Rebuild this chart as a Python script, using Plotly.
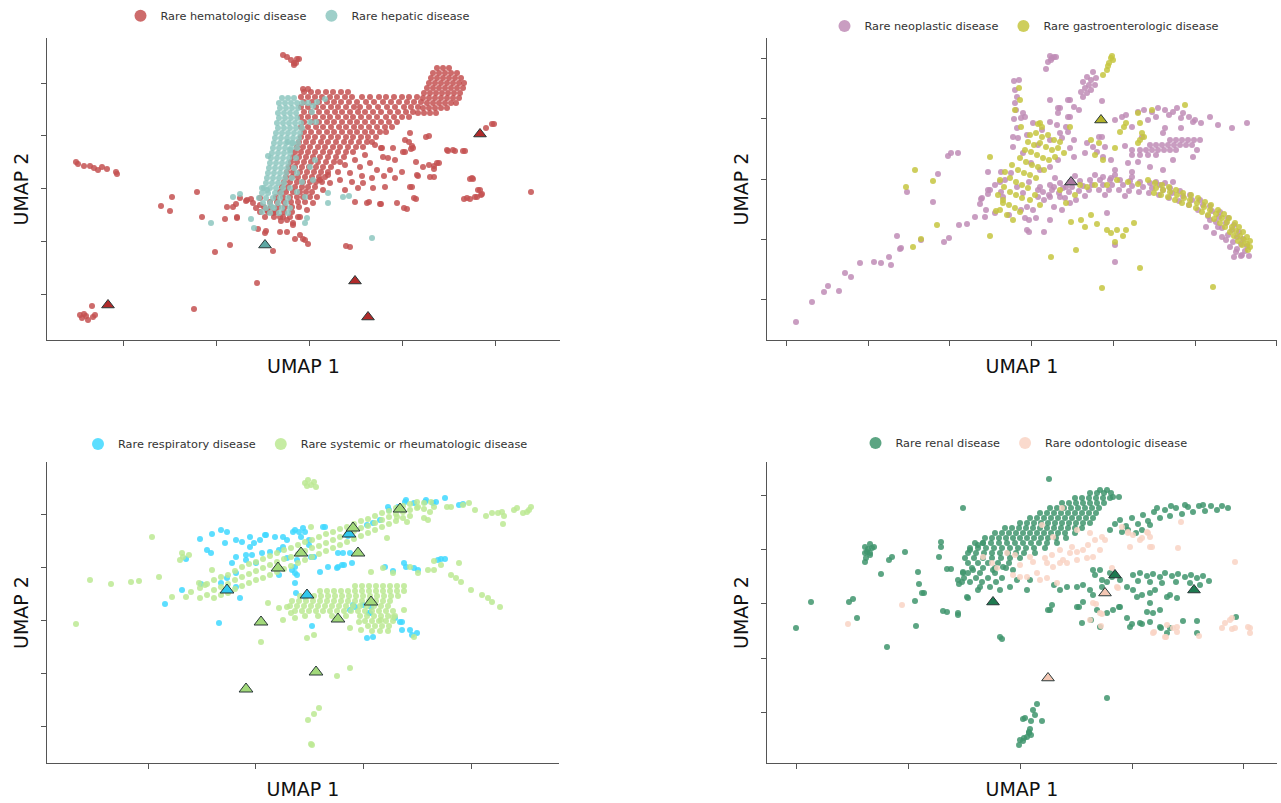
import plotly.graph_objects as go

FONT = "DejaVu Sans"
W, H = 1281, 803

# =====================================================================
# Panel A (top-left): hematologic vs hepatic
# =====================================================================
hema_rows = [
    (26.1, [30.3, 30.8]),
    (25.8, [30.4, 31.1, 31.8, 32.6, 33.3, 34.1, 34.8]),
    (25.3, [30.1, 30.8, 31.5, 32.2, 33.0, 33.7, 34.5, 35.2, 36.2, 37.0, 37.9, 38.6, 39.4, 40.2, 40.9, 41.7]),
    (24.8, [30.4, 31.2, 31.9, 32.7, 33.4, 34.1, 34.9, 35.7, 36.6, 37.4, 38.3, 39.1, 39.9, 40.7, 41.4, 42.1]),
    (24.3, [30.1, 30.8, 31.6, 32.3, 33.1, 33.8, 34.6, 35.4, 36.0, 36.9, 37.8, 38.7, 39.5, 40.4, 41.1, 41.8]),
    (23.8, [30.4, 31.1, 31.9, 32.7, 33.5, 34.2, 35.0, 35.8, 36.5, 37.3, 38.1, 39.0, 39.8, 40.6, 41.3]),
    (23.3, [30.1, 30.8, 31.5, 32.3, 33.0, 33.8, 34.6, 35.3, 36.1, 36.9, 37.7, 38.6, 39.4, 40.2, 40.9]),
    (22.8, [30.4, 31.2, 31.9, 32.7, 33.4, 34.2, 35.0, 35.7, 36.5, 37.3, 38.1, 38.9, 39.7]),
    (22.3, [30.1, 30.8, 31.6, 32.3, 33.1, 33.9, 34.6, 35.4, 36.1, 36.9, 37.7, 38.5, 39.2]),
    (21.8, [30.4, 31.1, 31.9, 32.7, 33.4, 34.2, 35.0, 35.7, 36.5, 37.2, 38.0, 38.6]),
    (21.3, [30.1, 30.8, 31.5, 32.3, 33.1, 33.8, 34.6, 35.3, 36.1, 36.8, 37.6]),
    (20.8, [29.9, 30.6, 31.3, 32.1, 32.8, 33.6, 34.4, 35.1, 35.9, 36.7, 37.2]),
    (20.3, [29.7, 30.3, 31.0, 31.8, 32.5, 33.3, 34.0, 34.8, 35.6, 36.3]),
    (19.8, [29.5, 30.1, 30.8, 31.5, 32.3, 33.0, 33.8, 34.6, 35.3]),
    (19.3, [29.3, 29.9, 30.6, 31.3, 32.0, 32.8, 33.6, 34.4]),
    (18.8, [29.1, 29.7, 30.4, 31.1, 31.8, 32.6, 33.4, 34.0]),
    (18.3, [28.9, 29.5, 30.2, 30.9, 31.6, 32.3, 33.1]),
    (17.8, [28.7, 29.3, 30.0, 30.7, 31.4, 32.1, 32.8]),
    (17.3, [28.6, 29.2, 29.8, 30.5, 31.2, 31.9, 32.5]),
    (16.8, [28.4, 29.0, 29.7, 30.3, 31.0, 31.6, 32.2]),
    (16.3, [28.2, 28.8, 29.5, 30.2, 30.8, 31.5]),
    (15.8, [28.0, 28.6, 29.3, 30.0, 30.6, 31.2]),
    (15.3, [27.6, 28.3, 29.0, 29.7, 30.3, 31.0]),
    (14.8, [27.0, 27.7, 28.4, 29.1, 29.8, 30.5]),
    (14.3, [26.4, 27.1, 27.8, 28.5, 29.2, 29.9]),
    (13.8, [26.0, 26.8, 27.6, 28.4, 29.2]),
    (13.3, [26.5, 27.4, 28.3, 29.0]),
    (28.2, [43.7, 44.3, 44.9]),
    (27.7, [43.3, 43.9, 44.5, 45.1, 45.7]),
    (27.2, [43.1, 43.7, 44.3, 44.9, 45.5, 46.1]),
    (26.7, [42.9, 43.5, 44.1, 44.7, 45.3, 45.9, 46.4]),
    (26.2, [42.7, 43.3, 43.9, 44.5, 45.1, 45.7, 46.3]),
    (25.7, [42.4, 43.0, 43.6, 44.2, 44.8, 45.4, 46.0]),
    (25.2, [42.3, 42.9, 43.5, 44.1, 44.7, 45.3, 45.9]),
    (24.7, [42.7, 43.3, 43.9, 44.5, 45.1, 45.6]),
    (24.2, [42.3, 42.9, 43.5, 44.1, 44.7]),
    (23.7, [41.8, 42.4, 43.0, 43.6]),
]
hema_scatter = [
    (28.3, 29.5), (28.7, 29.3), (29.1, 29.0), (29.4, 28.7), (29.7, 29.1), (29.9, 29.1), (29.4, 28.5), (29.6, 28.7),
    (7.6, 18.8), (7.8, 18.6), (8.4, 18.4), (9.0, 18.4), (9.4, 18.2), (9.8, 18.0), (10.2, 18.3), (10.7, 18.1),
    (11.6, 17.8), (11.7, 17.6),
    (8.0, 3.5), (8.4, 3.6), (8.6, 3.4), (8.8, 3.0), (9.2, 4.4), (9.3, 3.3), (9.5, 3.5), (8.2, 3.2),
    (19.4, 4.1), (25.7, 6.7), (21.5, 9.8), (23.0, 10.5), (20.2, 13.3), (17.0, 13.9), (16.1, 14.4), (17.2, 15.3),
    (19.7, 15.8), (27.3, 9.9), (34.6, 10.4), (35.0, 10.3), (53.1, 15.8),
    (47.3, 17.1), (48.0, 16.0), (48.2, 15.6), (47.7, 15.3), (47.0, 15.1), (46.4, 15.1), (49.4, 22.6), (48.6, 22.2),
    (46.5, 19.9), (45.5, 19.9), (44.8, 19.9), (43.9, 18.7), (43.4, 18.4), (42.9, 18.5), (43.4, 18.1), (43.4, 17.3),
    (41.6, 18.8), (41.8, 17.4), (41.2, 16.3), (41.6, 15.1), (40.7, 14.1), (39.7, 14.7), (38.1, 14.6), (36.9, 14.8),
    (35.5, 14.8), (42.9, 21.4), (42.6, 21.3), (41.0, 21.7), (40.9, 20.8), (41.2, 20.4), (41.1, 20.1), (40.5, 19.8),
    (37.5, 20.5), (38.1, 20.2), (38.3, 19.3),
    (30.8, 10.6), (30.3, 11.1), (29.5, 11.1), (28.7, 11.8), (28.0, 11.8), (26.6, 11.9), (25.8, 12.1), (28.1, 12.9),
    (23.7, 13.2), (22.5, 13.1), (22.7, 14.3), (23.6, 14.6), (24.6, 14.9), (25.1, 15.1), (26.0, 15.2), (25.6, 14.2),
    (40.5, 21.0), (41.3, 20.2), (40.3, 19.8), (39.3, 20.2), (38.2, 20.2), (42.3, 18.3), (41.7, 17.5), (43.0, 17.3),
    (43.7, 18.7), (44.7, 20.0), (45.3, 20.0), (46.3, 19.9), (47.0, 17.1), (47.2, 17.2), (46.7, 15.2), (47.5, 15.3),
    (48.1, 15.5), (47.8, 16.0), (49.2, 22.6),
    (41.0, 16.3), (41.4, 15.2), (40.4, 14.2), (38.0, 14.6), (36.7, 14.7), (38.5, 16.3), (37.3, 16.2), (36.3, 16.7),
    (35.8, 16.2), (39.0, 18.0), (37.7, 18.0), (37.0, 18.7), (36.0, 18.3), (35.0, 17.7), (34.0, 17.0), (33.0, 16.7),
    (32.3, 16.0), (31.7, 15.3), (31.3, 14.7), (30.7, 14.0), (30.0, 13.3), (29.3, 12.7), (28.7, 13.0), (28.0, 13.3),
    (27.3, 13.7), (26.7, 14.0), (26.0, 14.5), (25.3, 14.7), (24.7, 15.0), (24.0, 15.2), (23.3, 14.3), (23.7, 13.3),
    (26.5, 11.7), (30.0, 11.5), (30.5, 11.0), (29.3, 12.5), (29.8, 13.3),
    (34.5, 16.0), (35.2, 16.8), (36.2, 17.4), (37.2, 17.2), (38.4, 17.4), (39.5, 17.2), (40.2, 17.8), (39.5, 19.0),
    (38.8, 19.2), (36.5, 19.5), (35.5, 19.0), (34.5, 18.5), (33.8, 17.8), (32.8, 17.5), (32.0, 17.0),
]
hepatic_rows = [
    (25.2, [28.2, 28.8, 29.4]),
    (24.7, [27.9, 28.5, 29.1, 29.7]),
    (24.2, [28.0, 28.6, 29.2, 29.8]),
    (23.7, [27.8, 28.4, 29.0, 29.6]),
    (23.2, [27.9, 28.5, 29.1, 29.7]),
    (22.7, [27.7, 28.3, 28.9, 29.5]),
    (22.2, [27.8, 28.4, 29.0, 29.6, 30.2]),
    (21.7, [27.6, 28.2, 28.8, 29.4, 30.0]),
    (21.2, [27.5, 28.1, 28.7, 29.3, 29.9]),
    (20.7, [27.4, 28.0, 28.6, 29.2, 29.8]),
    (20.2, [27.3, 27.9, 28.5, 29.1, 29.7]),
    (19.7, [27.2, 27.8, 28.4, 29.0]),
    (19.2, [27.1, 27.7, 28.3, 28.9, 29.6]),
    (18.7, [27.0, 27.6, 28.2, 28.8]),
    (18.2, [26.9, 27.5, 28.1, 28.7, 29.4]),
    (17.7, [26.8, 27.4, 28.0, 28.6]),
    (17.2, [26.7, 27.3, 27.9, 28.5, 29.2]),
    (16.7, [26.6, 27.2, 27.8, 28.4]),
    (16.2, [26.4, 27.0, 27.6, 28.3, 29.0]),
    (15.7, [26.2, 26.8, 27.5, 28.1]),
    (15.2, [25.9, 26.6, 27.3, 28.0, 28.8]),
    (14.7, [26.3, 27.0, 27.8, 28.6]),
    (14.2, [26.6, 27.4, 28.2, 29.0]),
    (13.7, [27.0, 27.9, 28.8]),
]
hepatic_scatter = [
    (21.1, 12.7), (23.3, 15.3), (24.0, 15.6), (25.1, 13.1), (25.4, 12.2), (26.8, 19.4), (26.2, 16.2), (26.7, 16.0),
    (32.8, 15.7), (34.3, 15.3), (34.9, 15.4), (32.8, 14.7), (37.2, 11.2), (30.5, 12.7), (30.7, 13.2), (26.2, 13.8),
    (27.2, 14.3), (30.2, 24.7), (30.8, 24.7), (31.3, 24.4), (31.7, 24.8), (32.5, 25.1), (31.2, 23.8), (31.0, 22.8),
    (31.6, 22.8), (30.1, 22.7), (28.8, 20.8), (29.3, 20.7), (29.0, 20.0), (31.5, 19.0), (31.0, 18.3), (29.7, 17.7),
    (30.2, 16.8), (31.3, 17.0), (30.5, 15.3), (29.7, 15.8),
]
hema_tri = [(10.8, 4.5), (35.5, 6.9), (36.8, 3.3), (48.0, 21.6)]
hepatic_tri = [(26.5, 10.5)]

# =====================================================================
# Panel B (top-right): neoplastic vs gastroenterologic
# =====================================================================
neo_rows = [
    (21.0, [53.0, 53.6, 54.2, 54.8, 55.4, 56.0]),
    (20.5, [51.0, 51.6, 52.2, 52.8, 53.4, 54.0, 54.6, 55.2]),
    (20.0, [50.0, 50.6, 51.2, 51.8, 52.4, 53.0, 53.6]),
    (19.5, [49.2, 50.0, 50.8, 51.6]),
]
neo_scatter = [
    (15.6, 2.8), (17.2, 4.8), (18.4, 5.8), (18.8, 6.4), (19.9, 5.9), (20.5, 7.7), (21.1, 7.3), (22.0, 8.7),
    (23.4, 8.8), (24.1, 8.7), (24.9, 9.3), (25.1, 8.5), (25.7, 11.4), (26.0, 10.1), (26.1, 10.2), (28.1, 11.0),
    (30.4, 10.8), (30.9, 11.2), (31.9, 12.5), (32.7, 12.6), (33.5, 13.3), (34.5, 13.3), (26.7, 15.8), (29.3, 14.8),
    (29.8, 17.6), (30.8, 19.4), (31.1, 19.7), (31.8, 19.7), (34.1, 15.1), (34.0, 14.6), (34.8, 15.6), (35.0, 16.0),
    (35.5, 16.5), (36.0, 16.8),
    (41.0, 29.4), (41.2, 29.2), (41.4, 29.3), (41.6, 29.3), (40.8, 28.8), (40.6, 28.1), (41.1, 29.0),
    (37.4, 26.9), (37.9, 27.0), (37.5, 26.0), (37.7, 25.3), (37.5, 24.7), (37.6, 24.0), (38.3, 23.7), (37.4, 23.1),
    (38.1, 23.2), (37.7, 22.2), (37.3, 21.3), (37.8, 21.2),
    (45.3, 27.8), (44.7, 27.3), (45.1, 27.0), (44.3, 26.8), (44.9, 26.5), (44.5, 26.2), (44.1, 25.8), (44.7, 25.7),
    (44.3, 25.3), (45.1, 26.0), (45.6, 27.2), (45.5, 26.5), (43.9, 24.0), (43.4, 24.3), (43.0, 25.0), (42.0, 24.2),
    (42.8, 23.3), (42.6, 22.3), (43.4, 21.0), (42.0, 21.7), (41.7, 22.5), (41.0, 25.0), (46.2, 24.9),
    (47.5, 23.0), (48.2, 23.3), (48.6, 23.5), (49.2, 22.3), (49.8, 23.8), (50.4, 24.0), (51.2, 23.8), (51.8, 24.2),
    (52.5, 24.0), (53.3, 23.8), (53.7, 24.2), (54.3, 23.7), (54.9, 23.3), (55.5, 23.0), (56.1, 22.7), (57.0, 23.3),
    (57.8, 22.5), (59.2, 22.2), (60.7, 22.7), (50.8, 23.0), (51.6, 23.3), (52.9, 23.5), (54.1, 23.2), (55.3, 22.8),
    (52.5, 22.2), (48.5, 20.4), (49.2, 20.0),
    (36.1, 17.8), (36.5, 17.0), (37.1, 17.7), (37.7, 16.3), (38.3, 15.7), (38.9, 16.8), (38.7, 14.3), (39.3, 14.0),
    (38.5, 13.2), (38.9, 13.0), (39.6, 13.2), (40.4, 11.8), (41.0, 13.0), (41.4, 14.3), (42.2, 14.0), (43.0, 14.7),
    (43.6, 15.0), (42.0, 15.3), (41.0, 15.3), (40.4, 15.0), (39.8, 16.0), (41.4, 16.3), (42.6, 16.3), (40.0, 18.0),
    (41.0, 18.3), (41.8, 19.0), (39.1, 18.7), (38.3, 19.7), (37.3, 20.3), (38.7, 21.5), (39.8, 20.5), (41.0, 21.0),
    (42.2, 21.2), (43.0, 20.2), (43.4, 19.3), (44.7, 20.7), (45.3, 20.3), (44.5, 19.7), (45.9, 21.3), (46.3, 19.3),
    (47.1, 19.0), (48.8, 18.7), (49.8, 18.8), (47.1, 17.2), (47.5, 18.0), (49.2, 17.8), (51.0, 18.3), (52.3, 18.0),
    (53.3, 16.8), (55.3, 19.3), (55.7, 20.0), (53.3, 19.0), (50.2, 21.3), (52.3, 21.7), (54.1, 22.2), (42.8, 21.8),
    (43.0, 23.3), (41.0, 22.8), (40.2, 22.0), (39.3, 22.7), (38.5, 23.3), (41.8, 23.7), (42.8, 25.0), (41.8, 24.2),
    (46.2, 21.3), (46.5, 20.3), (45.7, 19.8), (34.8, 17.8), (36.1, 15.8), (36.3, 15.3), (34.8, 16.0), (34.2, 15.2),
    (34.6, 14.0), (35.5, 13.7), (36.9, 13.5), (38.1, 14.0), (38.7, 12.0), (38.9, 11.8), (47.5, 8.8), (47.5, 10.5),
    (46.7, 13.7), (46.3, 17.3), (49.2, 17.3), (51.6, 16.8), (52.5, 16.7),
    (56.6, 12.3), (57.4, 11.7), (58.2, 11.3), (59.0, 10.3), (59.6, 9.8), (60.2, 9.5), (60.9, 9.4), (59.4, 9.3),
    (57.0, 13.0), (57.8, 12.3), (58.6, 11.0),
    (40.0, 16.3), (40.3, 15.8), (39.8, 15.3), (41.0, 16.5), (41.2, 16.0), (40.9, 15.5), (42.0, 16.7), (42.3, 16.2),
    (41.9, 15.7), (43.0, 16.8), (43.2, 16.3), (42.9, 15.8), (44.0, 16.9), (44.3, 16.4), (43.9, 15.9), (45.0, 17.0),
    (45.2, 16.5), (44.9, 16.0), (46.0, 17.0), (46.3, 16.5), (45.9, 16.0), (47.0, 17.0), (47.2, 16.5), (46.9, 16.0),
    (48.0, 17.0), (48.3, 16.5), (47.9, 16.0), (49.0, 16.9), (49.2, 16.4), (48.9, 15.9), (50.0, 16.8), (50.3, 16.3),
    (49.9, 15.8), (51.0, 16.7), (51.2, 16.2), (50.9, 15.7), (52.0, 16.5), (52.3, 16.0), (51.9, 15.5), (53.0, 16.2),
    (53.2, 15.7), (52.9, 15.2), (54.0, 15.9), (54.3, 15.4), (53.9, 14.9), (55.0, 15.5), (55.2, 15.0), (54.9, 14.5),
    (56.0, 15.0), (56.3, 14.5), (55.8, 14.0), (57.0, 14.4), (57.2, 13.9), (56.8, 13.4), (58.0, 13.8), (57.9, 13.3),
    (57.6, 12.8), (58.8, 13.2), (58.6, 12.7), (58.2, 12.2), (59.4, 12.5), (59.2, 12.0), (58.8, 11.5), (59.9, 11.8),
    (59.7, 11.3), (59.3, 10.8), (60.3, 11.1), (60.1, 10.6), (59.7, 10.1), (60.7, 10.4), (60.5, 9.9), (60.1, 9.4),
    (41.5, 17.2), (43.5, 17.4), (45.5, 17.5), (47.5, 17.5), (42.5, 15.2), (44.5, 15.4), (46.5, 15.5), (48.5, 15.4),
]
gastro_scatter = [
    (47.1, 29.2), (47.3, 29.0), (46.9, 28.7), (46.7, 28.0), (46.8, 28.4), (46.3, 27.5), (47.2, 29.4),
    (37.9, 26.2), (38.0, 25.0), (37.5, 24.0), (38.1, 22.3), (40.0, 22.7), (40.2, 22.3),
    (39.0, 21.5), (39.6, 21.7), (40.2, 21.3), (40.8, 21.5), (41.4, 21.0), (42.0, 20.8), (38.8, 20.8), (39.4, 20.5),
    (40.0, 20.7), (40.6, 20.3), (41.2, 20.0), (41.8, 20.2), (42.4, 19.7), (38.5, 20.0), (39.1, 19.8), (39.7, 19.5),
    (40.3, 19.2), (40.9, 19.0), (41.5, 19.3), (38.0, 19.2), (38.6, 18.8), (39.2, 18.5), (39.8, 18.3), (40.4, 18.0),
    (37.2, 18.5), (37.8, 18.0), (38.4, 17.7), (39.0, 17.5), (39.6, 17.2), (36.5, 17.8), (37.0, 17.2), (37.6, 16.8),
    (38.2, 16.5), (38.8, 16.2), (36.0, 17.0), (36.4, 16.3), (37.0, 15.8), (37.6, 15.5), (38.2, 15.2), (35.8, 15.5),
    (36.3, 15.0), (36.9, 14.5), (37.5, 14.2), (36.0, 14.0), (36.7, 13.5), (37.3, 13.0), (38.0, 13.8), (39.0, 15.0),
    (39.5, 15.5), (40.0, 14.5),
    (39.8, 22.6), (43.0, 22.3), (45.1, 21.0), (45.9, 20.7), (45.5, 19.5), (46.3, 19.0), (47.5, 20.2), (48.4, 22.3),
    (48.6, 22.7), (49.8, 23.7), (50.0, 22.7), (51.2, 24.0), (54.5, 24.5), (50.0, 21.0), (50.4, 21.3), (49.8, 20.7),
    (35.0, 19.3), (27.5, 18.0), (26.6, 16.3), (29.3, 16.9), (29.7, 12.5), (28.1, 11.1), (27.3, 10.3), (35.0, 11.4),
    (35.6, 13.9), (36.3, 14.7), (41.1, 9.3), (43.6, 10.0), (46.2, 6.2), (50.0, 8.2), (57.3, 6.3), (43.1, 12.8),
    (44.1, 13.0), (44.5, 12.3), (45.1, 13.5), (45.7, 12.6), (46.7, 12.0), (47.1, 11.7), (47.7, 12.0), (48.6, 12.0),
    (49.4, 12.7), (48.3, 11.4), (47.5, 10.8), (42.6, 14.7), (44.7, 16.3), (45.5, 16.5), (46.7, 16.5), (47.7, 17.0),
    (48.8, 16.8), (49.8, 16.6), (50.8, 17.0), (44.0, 16.5), (42.0, 16.0), (43.5, 15.5), (50.2, 21.7), (48.0, 21.8),
    (51.5, 16.7), (51.6, 16.2), (51.4, 15.7), (52.2, 16.5), (52.3, 16.0), (52.1, 15.5), (52.9, 16.3), (53.0, 15.8),
    (52.8, 15.3), (53.6, 16.0), (53.7, 15.5), (53.5, 15.0), (54.3, 15.7), (54.4, 15.2), (54.2, 14.7), (55.1, 15.5),
    (55.0, 15.0), (54.9, 14.5), (55.8, 15.2), (55.7, 14.7), (55.6, 14.2), (56.5, 14.8), (56.4, 14.3), (56.2, 13.8),
    (57.1, 14.5), (57.0, 14.0), (56.8, 13.5), (57.8, 14.0), (57.6, 13.6), (57.4, 13.1), (58.4, 13.6), (58.2, 13.2),
    (58.0, 12.7), (58.9, 13.2), (58.7, 12.8), (58.5, 12.3), (59.5, 12.7), (59.2, 12.3), (59.0, 11.8), (59.9, 12.3),
    (59.6, 11.9), (59.4, 11.4), (60.3, 11.8), (60.0, 11.4), (59.8, 10.9), (60.7, 11.3), (60.4, 11.0), (60.2, 10.5),
    (61.0, 10.9), (60.7, 10.6), (61.0, 10.3), (60.8, 10.0),
]
neo_tri = [(43.1, 16.8)]
gastro_tri = [(46.1, 23.0)]

# =====================================================================
# Panel C (bottom-left): respiratory vs systemic/rheumatologic
# =====================================================================
resp_scatter = [
    (22.5, 22.7), (23.6, 23.0), (24.2, 22.8), (25.0, 22.3), (25.4, 22.7), (26.6, 23.5), (27.5, 23.3), (28.3, 23.3),
    (28.7, 23.0), (29.3, 23.8), (29.5, 24.0), (29.9, 23.8), (30.3, 24.2), (30.5, 23.8), (30.1, 23.3), (32.5, 24.3),
    (30.9, 23.0), (30.9, 22.5), (28.3, 22.3), (26.2, 21.7), (25.2, 21.5), (24.6, 21.5), (23.6, 21.3), (23.2, 20.7),
    (23.6, 19.7), (22.7, 19.2), (22.1, 18.7), (24.0, 17.2), (23.6, 18.3), (24.6, 21.0), (25.6, 20.7), (27.0, 21.8),
    (27.9, 22.0), (28.7, 21.2), (29.5, 20.3), (29.5, 19.7), (29.5, 18.7), (29.6, 17.7), (31.1, 21.3), (31.4, 21.3),
    (32.0, 19.8), (32.8, 20.3), (33.8, 21.7), (35.0, 21.7), (33.8, 20.3), (34.4, 20.5), (35.2, 20.7), (34.8, 23.4),
    (38.5, 20.3), (39.3, 19.9), (40.4, 20.7), (40.6, 20.3), (41.4, 20.2), (41.8, 20.0), (44.1, 21.1), (44.5, 21.1),
    (42.6, 27.0), (43.6, 26.8), (44.5, 27.2), (45.9, 26.5), (46.3, 26.6), (40.6, 27.0), (41.4, 26.7), (39.8, 26.3),
    (38.9, 26.0), (21.9, 14.7), (31.2, 14.4), (36.7, 13.2), (37.3, 13.3), (40.2, 14.0), (41.2, 13.5), (41.7, 13.7),
    (40.2, 14.8), (39.5, 15.2), (36.9, 15.7), (37.1, 16.3), (35.0, 16.0), (35.5, 16.3), (20.1, 18.6), (18.2, 18.0),
    (16.5, 16.6), (18.6, 21.1), (20.0, 23.1), (20.7, 22.0), (21.2, 23.6), (22.1, 24.0), (22.7, 23.8), (21.1, 21.7),
    (26.0, 23.0), (25.0, 23.3), (27.9, 19.5), (29.7, 21.0), (29.7, 19.5), (29.2, 20.0), (36.7, 24.5), (37.3, 24.7),
    (38.0, 25.0), (38.8, 26.3), (40.5, 26.8), (42.5, 26.8), (43.3, 26.7), (43.8, 21.0), (40.0, 14.8), (41.0, 14.0),
    (30.5, 17.3), (35.3, 16.5), (36.3, 16.5), (37.0, 15.7), (34.3, 21.7), (34.2, 20.5), (33.7, 20.2), (26.5, 23.5),
    (32.3, 24.3),
]
sys_band_cols = [
    (20.0, [18.2, 17.2]), (20.7, [18.6, 17.5]), (21.4, [19.0, 18.0, 17.2]), (22.1, [19.3, 18.3, 17.5]),
    (22.8, [19.5, 18.6, 17.7]), (23.5, [19.9, 19.0, 18.1]), (24.2, [20.3, 19.3, 18.4]), (24.9, [20.6, 19.6, 18.7]),
    (25.6, [20.8, 19.9, 19.0]), (26.3, [21.1, 20.2, 19.2]), (27.0, [21.4, 20.5, 19.5]), (27.7, [21.7, 20.8, 19.8]),
    (28.4, [22.0, 21.1, 20.1]), (29.1, [22.2, 21.3, 20.4]), (29.8, [22.5, 21.6, 20.7]), (30.5, [22.8, 21.9, 21.0]),
    (31.2, [23.0, 22.2, 21.3]), (31.9, [23.3, 22.4, 21.6]), (32.6, [23.6, 22.7, 21.9]), (33.3, [23.8, 23.0, 22.2]),
    (34.0, [24.1, 23.3, 22.5]), (34.7, [24.3, 23.6, 22.8]), (35.4, [24.6, 23.9, 23.1]), (36.1, [24.9, 24.2, 23.4]),
    (36.8, [25.1, 24.4, 23.7]), (37.5, [25.4, 24.7, 24.0]), (38.2, [25.7, 25.0, 24.3]), (38.9, [25.9, 25.3, 24.6]),
    (39.6, [26.2, 25.6, 24.9]), (40.3, [26.4, 25.8, 25.2]), (41.0, [26.6, 26.0, 25.4]), (41.7, [26.8, 26.2]),
    (42.4, [26.7, 26.1]), (43.1, [26.8]),
]
sys_cluster_rows = [
    (18.4, [35.5, 36.2, 36.9, 37.6, 38.3, 39.0, 39.7, 40.4]),
    (17.9, [32.0, 32.7, 33.4, 34.1, 34.8, 35.5, 36.2, 36.9, 37.6, 38.3, 39.0, 39.7, 40.4]),
    (17.4, [30.0, 30.7, 31.4, 32.1, 32.8, 33.5, 34.2, 34.9, 35.6, 36.3, 37.0, 37.7, 38.4, 39.1, 39.8]),
    (16.9, [29.2, 29.9, 30.6, 31.3, 32.0, 32.7, 33.4, 34.1, 34.8, 35.5, 36.2, 36.9, 37.6, 38.3, 39.0]),
    (16.4, [29.0, 29.7, 30.4, 31.1, 31.8, 32.5, 33.2, 33.9, 34.6, 35.3, 36.0, 36.7, 37.4, 38.1, 38.8]),
    (15.9, [29.5, 30.2, 30.9, 31.6, 32.3, 33.0, 33.7, 34.4, 35.1, 35.8, 36.5, 37.2, 37.9, 38.6, 39.3]),
    (15.4, [30.5, 31.8, 33.2, 34.6, 36.0, 36.7, 37.4, 38.1, 38.8, 39.5]),
    (14.9, [36.5, 37.2, 37.9, 38.6, 39.3]),
    (14.4, [36.8, 37.5, 38.2, 38.9]),
    (13.9, [37.2, 38.0, 38.8]),
]
sys_scatter = [
    (30.5, 28.7), (30.8, 29.0), (31.1, 28.5), (31.4, 28.8), (31.6, 28.3), (30.7, 28.4),
    (31.9, 6.2), (31.4, 5.6), (30.8, 5.0), (31.1, 2.6), (31.2, 2.5), (33.7, 9.4), (35.0, 10.2), (26.1, 12.8),
    (7.6, 14.6), (9.0, 19.0), (11.1, 18.6), (13.1, 18.8), (13.9, 18.9), (15.2, 23.3), (15.9, 19.3), (17.2, 17.3),
    (18.6, 17.3), (19.1, 17.8), (19.9, 18.7), (20.5, 18.5), (21.2, 20.0), (18.2, 21.7), (18.3, 21.3), (18.9, 21.5),
    (18.0, 21.0),
    (41.8, 26.3), (43.0, 25.8), (43.4, 26.3), (44.7, 26.3), (45.1, 26.3), (46.3, 26.5), (46.9, 26.7), (47.5, 26.0),
    (48.6, 25.4), (49.2, 25.7), (49.8, 25.7), (50.2, 25.8), (50.4, 25.4), (50.3, 24.6), (51.4, 26.0), (51.7, 26.2),
    (52.3, 25.7), (52.7, 25.8), (53.1, 26.3), (52.9, 26.0),
    (43.4, 20.9), (44.1, 20.5), (45.1, 19.5), (45.9, 20.7), (45.6, 19.2), (46.1, 18.8), (47.1, 18.0), (48.2, 17.5),
    (48.8, 17.2), (49.2, 16.8), (50.0, 16.3), (42.8, 20.0), (43.4, 20.0), (41.8, 19.7), (39.3, 19.7), (41.0, 20.3),
    (38.3, 20.2),
    (26.8, 16.7), (27.9, 16.2), (28.7, 16.3), (29.1, 15.7), (29.5, 15.2), (28.3, 15.0), (30.7, 13.2), (31.4, 13.5),
    (35.0, 14.2), (35.9, 14.8), (38.1, 15.0), (39.3, 15.3), (40.4, 16.0), (41.4, 13.3), (36.1, 14.0),
    (31.1, 24.3), (38.7, 23.2), (37.1, 19.8), (42.4, 25.2), (42.8, 25.0), (40.7, 24.8), (39.7, 25.3),
]
resp_tri = [(22.7, 18.0), (30.7, 17.5), (34.9, 23.6)]
sys_tri = [(40.0, 26.1), (35.3, 24.2), (35.8, 21.7), (30.1, 21.7), (27.8, 20.2), (37.1, 16.8), (26.1, 14.8),
           (33.8, 15.1), (31.6, 9.8), (24.6, 8.1)]

# =====================================================================
# Panel D (bottom-right): renal vs odontologic
# =====================================================================
renal_rows = [
    (28.0, [46.0, 46.7]),
    (27.7, [45.0, 45.7, 46.4, 47.1]),
    (27.3, [47.3, 47.9]),
    (27.2, [43.5, 44.2, 44.9, 45.6, 46.3, 47.0]),
    (26.7, [42.2, 42.9, 43.6, 44.3, 45.0, 45.7, 46.4]),
    (26.2, [41.0, 41.7, 42.4, 43.1, 43.8, 44.5, 45.2, 45.9]),
    (25.7, [40.0, 40.7, 41.4, 42.1, 42.8, 43.5, 44.2, 44.9, 45.6]),
    (25.2, [39.0, 39.7, 40.4, 41.1, 41.8, 42.5, 43.2, 43.9, 44.6, 45.3]),
    (24.7, [38.0, 38.7, 39.4, 40.1, 40.8, 41.5, 42.2, 42.9, 43.6, 44.3, 45.0]),
    (24.2, [36.5, 37.2, 37.9, 38.6, 39.3, 40.0, 40.7, 41.4, 42.1, 42.8, 43.5, 44.2]),
    (23.7, [35.5, 36.2, 36.9, 37.6, 38.3, 39.0, 39.7, 40.4, 41.1, 41.8, 42.5, 43.5]),
    (23.2, [34.5, 35.2, 35.9, 36.6, 37.3, 38.0, 38.7, 39.4, 40.1, 40.8, 41.6, 42.6]),
    (22.7, [33.5, 34.3, 35.1, 35.9, 36.7, 37.5, 38.3, 39.1, 39.9, 40.7, 41.7]),
    (22.2, [33.0, 33.8, 34.6, 35.4, 36.2, 37.0, 37.8, 38.6, 39.4, 40.5]),
    (21.7, [32.8, 33.6, 34.4, 35.2, 36.0, 36.8, 37.6, 38.4, 39.5]),
    (21.2, [32.5, 33.4, 34.3, 35.2, 36.1, 37.0, 38.0]),
    (20.7, [32.8, 33.8, 34.8, 35.8, 36.9]),
    (20.2, [33.2, 34.3, 35.5, 36.6]),
    (19.7, [34.0, 35.5]),
    (19.2, [32.4, 33.6, 34.8, 36.2]),
    (18.8, [33.0, 34.2, 35.6]),
]
renal_scatter = [
    (40.9, 29.1), (32.3, 26.2), (15.6, 14.2), (17.1, 16.8), (20.9, 16.8), (21.3, 17.1), (21.7, 15.2), (24.7, 12.3),
    (27.6, 14.4), (27.5, 16.9), (28.4, 17.7), (27.9, 18.6), (27.8, 19.8), (26.5, 21.8), (25.2, 21.3), (24.9, 21.0),
    (24.1, 19.6), (22.5, 20.8), (30.1, 22.8), (30.1, 22.3), (29.9, 21.3), (30.7, 20.1), (31.1, 20.1), (30.3, 15.9),
    (30.7, 15.8), (31.8, 15.5), (32.7, 17.3), (36.2, 13.1), (46.7, 7.2), (59.6, 15.3), (55.7, 14.9), (54.3, 14.9),
    (52.1, 14.2), (51.0, 14.8), (50.2, 14.6), (49.2, 14.6), (48.7, 15.2), (47.9, 16.3), (45.1, 15.0), (43.9, 16.3),
    (41.0, 16.0), (41.2, 16.5), (41.4, 18.5),
    (22.5, 22.3), (23.0, 22.6), (23.2, 22.2), (22.7, 21.8), (22.5, 21.7), (23.0, 21.5), (23.4, 22.3), (22.8, 22.1),
    (23.0, 21.7), (22.6, 21.2),
    (39.7, 6.6), (39.3, 6.0), (39.5, 5.5), (39.1, 4.9), (38.5, 5.2), (38.3, 5.1), (40.2, 4.9), (39.0, 4.1),
    (38.9, 3.7), (38.7, 3.3), (38.4, 3.2), (38.0, 3.0), (37.9, 2.5), (38.3, 2.9), (39.1, 3.5), (38.9, 3.8),
    (42.0, 18.0), (42.7, 18.3), (43.7, 18.3), (44.3, 18.5), (45.0, 18.0), (43.7, 16.3), (44.3, 16.8), (45.3, 17.5),
    (46.2, 18.3), (46.7, 18.8), (45.3, 20.0), (46.0, 20.0), (47.2, 19.3), (48.0, 19.0), (48.7, 18.3), (49.3, 18.0),
    (49.7, 17.3), (50.2, 17.5), (51.0, 17.7), (51.5, 18.0), (52.7, 17.3), (53.0, 17.5), (53.7, 17.2), (51.0, 16.7),
    (50.7, 15.8), (51.3, 15.7), (52.0, 16.0), (50.0, 14.7), (52.0, 14.3), (52.7, 13.7), (53.0, 14.2), (55.7, 13.7),
    (48.0, 16.3), (47.3, 16.0), (46.7, 15.7), (45.7, 16.0), (44.2, 14.7), (46.0, 14.3), (49.0, 14.3), (40.8, 16.0),
    (39.0, 19.0), (37.7, 19.0), (38.7, 18.0), (37.0, 18.3), (36.0, 18.0), (35.0, 18.3), (34.0, 18.3), (32.8, 17.2),
    (31.8, 15.7), (28.2, 17.7), (36.0, 13.3), (37.3, 20.0), (36.3, 20.3), (35.3, 20.0), (33.3, 20.0), (32.3, 19.7),
    (31.8, 19.0), (32.2, 18.8), (31.9, 18.6), (33.8, 18.0), (32.8, 19.7), (32.3, 19.8), (33.0, 22.0), (33.8, 22.5),
    (34.3, 22.7),
    (47.5, 24.6), (48.0, 25.0), (48.6, 24.4), (49.2, 25.2), (49.8, 24.6), (50.3, 25.5), (50.8, 24.9), (51.4, 25.8),
    (52.0, 25.2), (52.5, 26.0), (53.0, 25.4), (53.6, 26.2), (54.2, 25.6), (54.8, 26.3), (55.3, 25.8), (55.9, 26.4),
    (56.5, 25.9), (57.1, 26.4), (57.7, 26.0), (58.2, 26.4), (58.8, 26.2), (50.2, 24.0), (49.6, 23.7), (51.0, 24.5),
    (51.7, 26.2), (53.1, 26.4), (54.5, 26.5), (56.3, 26.5), (48.8, 24.0), (48.2, 23.8), (47.0, 24.0),
    (49.3, 19.5), (50.0, 19.7), (50.7, 19.4), (51.3, 19.6), (52.0, 19.3), (52.5, 19.7), (53.2, 19.4), (53.8, 19.6),
    (54.5, 19.3), (55.1, 19.5), (55.7, 19.2), (56.3, 19.4), (56.9, 18.9), (49.8, 18.9), (51.0, 18.8), (52.2, 18.7),
    (53.6, 18.8), (55.0, 18.7), (56.0, 18.5), (45.5, 19.5), (46.2, 19.0), (47.0, 19.7),
]
odon_scatter = [
    (26.2, 16.5), (20.8, 14.6), (59.5, 20.8), (58.2, 14.2), (59.2, 14.1), (61.0, 14.2), (61.0, 13.7), (58.5, 14.7),
    (59.2, 15.2), (55.9, 13.4), (52.7, 14.5), (53.3, 14.2), (53.7, 14.3), (52.6, 13.3), (51.4, 13.8), (46.1, 14.4),
    (46.2, 15.6), (45.6, 16.6), (54.1, 24.8), (53.8, 22.2), (51.2, 22.3), (49.0, 22.3), (50.2, 23.2), (50.8, 23.7),
    (51.0, 23.3), (48.8, 23.7), (42.2, 26.2), (40.2, 24.5), (43.7, 24.0), (45.0, 23.7), (46.2, 23.3), (46.5, 23.0),
    (45.5, 23.0), (44.8, 22.5), (44.3, 22.0), (43.7, 21.8), (43.0, 21.7), (42.3, 21.0), (42.0, 20.7), (42.7, 20.7),
    (41.3, 20.3), (40.7, 20.7), (40.5, 21.2), (41.2, 21.5), (42.0, 22.0), (43.2, 22.3), (44.7, 21.2), (45.3, 21.3),
    (46.0, 22.0), (43.7, 21.0), (39.0, 21.3), (39.3, 20.8), (38.0, 20.5), (37.3, 19.5), (38.0, 19.3), (38.7, 19.3),
    (35.2, 20.7), (35.7, 20.2), (34.3, 21.3), (36.7, 21.7), (37.5, 21.5), (39.7, 19.7), (40.0, 19.0), (40.7, 19.2),
    (41.7, 18.7), (48.2, 24.3), (48.8, 23.8), (49.3, 23.5), (50.0, 23.0), (50.7, 23.8), (51.0, 22.3), (47.2, 20.2),
    (47.7, 18.3), (45.3, 16.7), (46.0, 15.7), (45.0, 15.0), (51.3, 13.7), (52.5, 13.3), (53.7, 13.8), (59.0, 15.0),
    (59.5, 14.2), (60.8, 14.3), (47.8, 18.2), (41.3, 23.3),
]
renal_tri = [(35.3, 16.8), (47.5, 19.5), (55.4, 18.0)]
odon_tri = [(46.5, 17.7), (40.8, 9.2)]

# ---------------- axes (ranges and tick positions) ----------------
A_XRANGE, A_YRANGE = [4.7, 56.0], [1.0, 31.2]
A_XTICKS, A_YTICKS = [12.3, 21.6, 30.9, 40.2, 49.5], [5.6, 10.9, 16.2, 21.5, 26.7]
B_XRANGE, B_YRANGE = [12.7, 63.7], [1.0, 31.2]
B_XTICKS, B_YTICKS = [14.6, 22.8, 30.9, 39.1, 47.3, 55.5, 63.6], [5.1, 11.1, 17.1, 23.2, 29.2]
C_XRANGE, C_YRANGE = [4.7, 55.9], [0.7, 30.8]
C_XTICKS, C_YTICKS = [14.8, 25.5, 36.3, 47.1], [4.4, 9.7, 15.0, 20.3, 25.6]
D_XRANGE, D_YRANGE = [12.7, 63.7], [0.7, 30.8]
D_XTICKS, D_YTICKS = [15.6, 26.8, 38.0, 49.2, 60.3], [5.8, 11.2, 16.7, 22.1, 27.5]

# colours: point colour, triangle colour
C_HEMA, T_HEMA = "#C45151", "#B02A2A"
C_HEP, T_HEP = "#8DC7C0", "#5EA8A4"
C_NEO, T_NEO = "#C08CB6", "#A8789F"
C_GAS, T_GAS = "#C5C53F", "#B3B32A"
C_RESP, T_RESP = "#3FD8FF", "#2FC8EE"
C_SYS, T_SYS = "#BCE993", "#A2D97A"
C_REN, T_REN = "#3F956D", "#1E7A50"
C_ODO, T_ODO = "#F9D3C4", "#F3C6B3"


def from_rows(rows):
    return [(x, y) for y, xs in rows for x in xs]


def from_cols(cols):
    return [(x, y) for x, ys in cols for y in ys]


hema_pts = from_rows(hema_rows) + hema_scatter
hepatic_pts = from_rows(hepatic_rows) + hepatic_scatter
neo_pts = from_rows(neo_rows) + neo_scatter
gastro_pts = gastro_scatter
resp_pts = resp_scatter
sys_pts = from_cols(sys_band_cols) + from_rows(sys_cluster_rows) + sys_scatter
renal_pts = from_rows(renal_rows) + renal_scatter
odon_pts = odon_scatter

panels = [
    dict(ax="", leg="legend", xr=A_XRANGE, yr=A_YRANGE, xt=A_XTICKS, yt=A_YTICKS,
         xdom=[47 / W, 560 / W], ydom=[1 - 340 / H, 1 - 38 / H], lx=297.5 / W, ly=1 - 15.7 / H, tri=11,
         series=[("Rare hematologic disease", hema_pts, C_HEMA, hema_tri, T_HEMA),
                 ("Rare hepatic disease", hepatic_pts, C_HEP, hepatic_tri, T_HEP)]),
    dict(ax="2", leg="legend2", xr=B_XRANGE, yr=B_YRANGE, xt=B_XTICKS, yt=B_YTICKS,
         xdom=[767 / W, 1277 / W], ydom=[1 - 340 / H, 1 - 38 / H], lx=1024.5 / W, ly=1 - 26 / H, tri=11,
         series=[("Rare neoplastic disease", neo_pts, C_NEO, neo_tri, T_NEO),
                 ("Rare gastroenterologic disease", gastro_pts, C_GAS, gastro_tri, T_GAS)]),
    dict(ax="3", leg="legend3", xr=C_XRANGE, yr=C_YRANGE, xt=C_XTICKS, yt=C_YTICKS,
         xdom=[47 / W, 559 / W], ydom=[1 - 763 / H, 1 - 462 / H], lx=305.5 / W, ly=1 - 444 / H, tri=12,
         series=[("Rare respiratory disease", resp_pts, C_RESP, resp_tri, T_RESP),
                 ("Rare systemic or rheumatologic disease", sys_pts, C_SYS, sys_tri, T_SYS)]),
    dict(ax="4", leg="legend4", xr=D_XRANGE, yr=D_YRANGE, xt=D_XTICKS, yt=D_YTICKS,
         xdom=[767 / W, 1277 / W], ydom=[1 - 763 / H, 1 - 462 / H], lx=1024 / W, ly=1 - 443 / H, tri=11,
         series=[("Rare renal disease", renal_pts, C_REN, renal_tri, T_REN),
                 ("Rare odontologic disease", odon_pts, C_ODO, odon_tri, T_ODO)]),
]

fig = go.Figure()
layout = dict(
    width=W, height=H, margin=dict(l=0, r=0, t=0, b=0),
    paper_bgcolor="white", plot_bgcolor="white",
    font=dict(family=FONT, color="#222"),
    showlegend=True,
)

for p in panels:
    xa, ya = "x" + p["ax"], "y" + p["ax"]
    for name, pts, col, tri, tcol in p["series"]:
        fig.add_trace(go.Scatter(
            x=[a for a, b in pts], y=[b for a, b in pts], mode="markers", name=name,
            xaxis=xa, yaxis=ya, legend=p["leg"], hoverinfo="skip",
            marker=dict(size=6, color=col, opacity=0.85, line=dict(width=0)),
        ))
    for name, pts, col, tri, tcol in p["series"]:
        fig.add_trace(go.Scatter(
            x=[a for a, b in tri], y=[b for a, b in tri], mode="markers", name=name + " (seed)",
            xaxis=xa, yaxis=ya, showlegend=False, hoverinfo="skip",
            marker=dict(symbol="triangle-up", size=p["tri"], color=tcol, opacity=1,
                        line=dict(width=1, color="#2A3838")),
        ))
    axis_common = dict(showline=True, linecolor="#555555", linewidth=1.3, ticks="outside", ticklen=5,
                       tickcolor="#555555", tickwidth=1, showticklabels=False, showgrid=False,
                       zeroline=False, tickmode="array")
    layout["xaxis" + p["ax"]] = dict(axis_common, domain=p["xdom"], range=p["xr"], tickvals=p["xt"],
                                     anchor=ya,
                                     title=dict(text="UMAP 1", font=dict(size=19, family=FONT, color="#111"),
                                                standoff=14))
    layout["yaxis" + p["ax"]] = dict(axis_common, domain=p["ydom"], range=p["yr"], tickvals=p["yt"],
                                     anchor=xa,
                                     title=dict(text="UMAP 2", font=dict(size=19, family=FONT, color="#111"),
                                                standoff=7))
    layout[p["leg"]] = dict(orientation="h", x=p["lx"], y=p["ly"], xanchor="center", yanchor="middle",
                            itemsizing="constant", bgcolor="rgba(0,0,0,0)",
                            font=dict(family=FONT, size=11.3, color="#333"))

fig.update_layout(**layout)
fig.write_html("out.html", config={"displayModeBar": False},
               post_script="document.body.style.margin='0px';")
